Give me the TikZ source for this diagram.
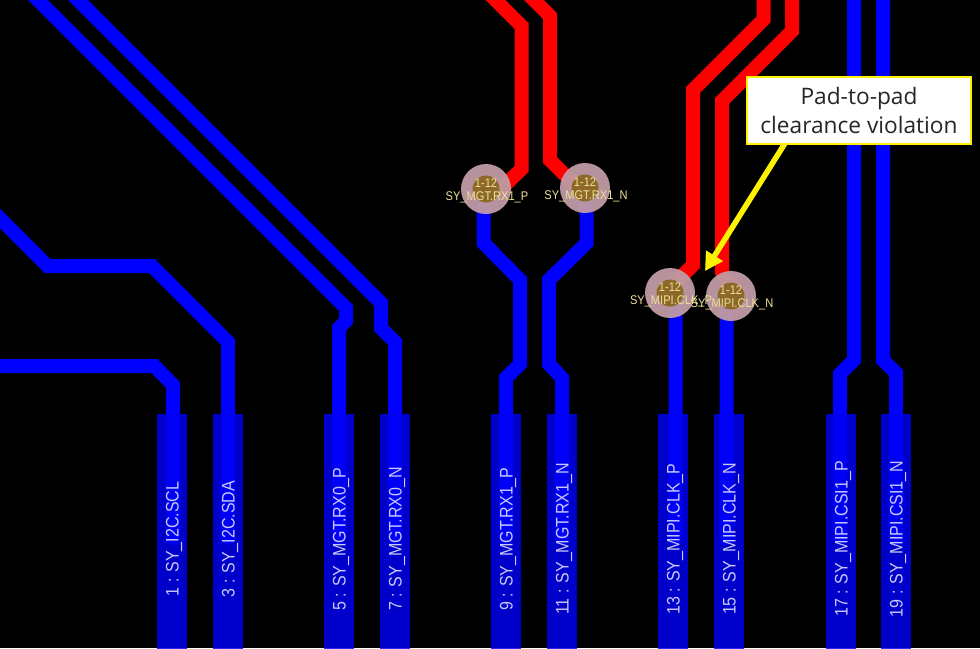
\documentclass[tikz,border=0pt]{standalone}
\usepackage{fontspec}
\setmainfont{Liberation Sans}
\newfontfamily\calloutfont{Open Sans}
\newfontfamily\boardfont[FakeStretch=.88]{Liberation Sans}
\usepackage{tikz}
\usetikzlibrary{calc, arrows.meta}
\definecolor{padblue}{RGB}{0,0,245}
\definecolor{padtext}{RGB}{200,200,250}
\definecolor{viaring}{RGB}{192,155,165}
\definecolor{viahole}{RGB}{140,105,40}
\definecolor{viatext}{RGB}{240,225,150}
\tikzstyle{blue trace}=[draw=blue, line width=14pt, line join=miter, line cap=round]
\tikzstyle{red trace}=[draw=red, line width=14pt, line join=miter]
\tikzstyle{pad}=[inner sep=0pt, shape=rectangle, fill=padblue, fill opacity=.83, minimum width=30pt, minimum height=236pt]
\tikzstyle{padlabel}=[inner sep=0pt, rotate=90, text=padtext, font=\boardfont\fontsize{18.2}{20}\selectfont]
\tikzstyle{via}=[inner sep=0pt, shape=circle, fill=viaring, fill opacity=.95, minimum size=50pt]
\tikzstyle{hole}=[inner sep=0pt, shape=circle, fill=viahole, minimum size=27pt]
\tikzstyle{vialabel}=[inner sep=0pt, text=viatext, font=\boardfont\fontsize{12.6}{14}\selectfont]
\begin{document}
\begin{tikzpicture}[x=1pt, y=-1pt]
\clip (0,0) rectangle (980,648);
\fill[black] (0,0) rectangle (980,648);
% pads
\foreach \n/\x in {1/173,3/228,5/339,7/395,9/506,11/562,13/675.5,15/726.5,17/840,19/896}
{
\coordinate (top\n) at (\x,538);
}
% vias
\coordinate (mgtp) at (486,189);
\coordinate (mgtn) at (585,188);
\coordinate (clkp) at (670,293);
\coordinate (clkn) at (731,296);
% traces
\draw[red trace] (487.5,-8) -- (521.5,26) -- (521.5,169) -- (501,189) -- (mgtp);
\draw[red trace] (526,-8) -- (550,16) -- (550,160) -- (578,188) -- (mgtn);
\draw[red trace] (763.5,-8) -- (763.5,19.5) -- (693,90) -- (693,265) -- (670,288) -- (clkp);
\draw[red trace] (792,-8) -- (792,31) -- (722,101) -- (722,272) -- (731,285) -- (clkn);
\draw[blue trace] (-8,210.5) -- (47.5,266) -- (152,266) -- (228,342) -- (top3);
\draw[blue trace] (-8,366) -- (154.5,366) -- (173,385) -- (top1);
\draw[blue trace] (30,-8) -- (346,308) -- (346,321) -- (339,328) -- (top5);
\draw[blue trace] (70,-8) -- (381,303) -- (381,328) -- (395,342) -- (top7);
\draw[blue trace] (mgtp) -- (483.5,215) -- (483.5,243) -- (520,280) -- (520,364) -- (506,378) -- (top9);
\draw[blue trace] (mgtn) -- (586.5,215) -- (586.5,243) -- (549,280) -- (549,364) -- (562,378) -- (top11);
\draw[blue trace] (clkp) -- (675.5,310) -- (top13);
\draw[blue trace] (clkn) -- (726.5,315) -- (top15);
\draw[blue trace] (854,-8) -- (854,360) -- (840,374) -- (top17);
\draw[blue trace] (883,-8) -- (883,360) -- (896,373) -- (top19);
\foreach \n/\x/\t in {1/172/SY\_I2C.SCL,3/228/SY\_I2C.SDA,5/339/SY\_MGT.RX0\_P,7/395/SY\_MGT.RX0\_N,9/506/SY\_MGT.RX1\_P,11/562/SY\_MGT.RX1\_N,13/673/SY\_MIPI.CLK\_P,15/729/SY\_MIPI.CLK\_N,17/841/SY\_MIPI.CSI1\_P,19/896/SY\_MIPI.CSI1\_N}
{
\node[pad] (pad\n) at (\x,532) {};
\node[padlabel] (text\n) at (\x+2,539) {\n{} : \t};
}
\foreach \v/\x/\y/\t in {mgtp/486/189/SY\_MGT.RX1\_P,mgtn/585/188/SY\_MGT.RX1\_N,clkp/670/293/SY\_MIPI.CLK\_P,clkn/731/296/SY\_MIPI.CLK\_N}
{
\node[via] (ring\v) at (\x,\y) {};
\node[hole] (hole\v) at (\x,\y) {};
}
\foreach \v/\x/\y/\t in {mgtp/486/189/SY\_MGT.RX1\_P,mgtn/585/188/SY\_MGT.RX1\_N,clkp/670/293/SY\_MIPI.CLK\_P,clkn/731/296/SY\_MIPI.CLK\_N}
{
\node[vialabel] (num\v) at (\x,\y-6) {1-12};
\node[vialabel] (name\v) at (\x+1,\y+8.5) {\t};
}
% callout
\coordinate (tip) at (705,271);
\coordinate (tail) at (787,140);
\draw[yellow, line width=5.5pt, -{Triangle[length=18pt, width=19pt]}] (tail) -- (tip);
\node[draw=yellow, fill=white, line width=1.5pt, minimum width=224pt, minimum height=67pt, inner sep=0pt, align=center, text=black!85, font=\calloutfont\fontsize{22.7}{29}\selectfont] (callout) at (859,110.5) {Pad-to-pad\\clearance violation};
\end{tikzpicture}
\end{document}
